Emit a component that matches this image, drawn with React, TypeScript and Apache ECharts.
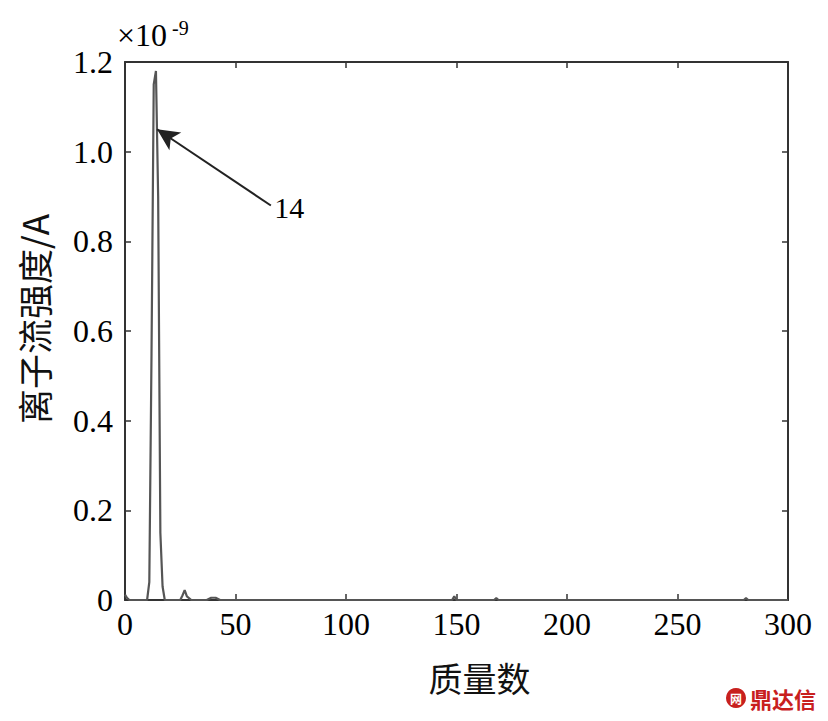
import React, { useEffect, useRef } from "react";
import * as echarts from "echarts";

const massNumbers = [0, 1, 2, 8, 10, 11, 12, 13, 14, 15, 16, 17, 18, 25, 26, 27, 28, 30, 37, 39, 41, 43, 148, 149, 150, 167, 168, 169, 280, 281, 282, 300];
const intensity = [0.012, 0.004, 0, 0, 0, 0.04, 0.55, 1.15, 1.18, 0.9, 0.15, 0.03, 0, 0, 0.01, 0.022, 0.008, 0, 0, 0.005, 0.005, 0, 0, 0.008, 0, 0, 0.004, 0, 0, 0.004, 0, 0];
const xTicks = [0, 50, 100, 150, 200, 250, 300];
const yTicks = [0, 0.2, 0.4, 0.6, 0.8, 1.0, 1.2];
const peakLabel = "14";
const arrowFrom = [66, 0.88];
const arrowTo = [14.5, 1.05];

const serif = "'Liberation Serif', 'Times New Roman', serif";
const cjk = "'Noto Sans CJK SC', sans-serif";

export default function App() {
  const ref = useRef<HTMLDivElement>(null);
  useEffect(() => {
    const chart = echarts.init(ref.current!, null, { renderer: "svg" });
    const axisLine = { show: true, onZero: false, lineStyle: { color: "#333", width: 2 } };
    const tick = { show: true, inside: true, length: 6, lineStyle: { color: "#333", width: 1.5 } };
    chart.setOption({
      animation: false,
      backgroundColor: "#fff",
      grid: { left: 110, right: 40, top: 54, bottom: 121 },
      xAxis: [
        {
          type: "value",
          min: xTicks[0],
          max: xTicks[xTicks.length - 1],
          interval: 50,
          axisLine,
          axisTick: tick,
          splitLine: { show: false },
          axisLabel: { color: "#000", fontFamily: serif, fontSize: 32, margin: 8 },
          name: "质量数",
          nameLocation: "middle",
          nameGap: 60,
          nameTextStyle: { color: "#111", fontFamily: cjk, fontSize: 34, padding: [0, 0, 0, 46] },
        },
        {
          type: "value",
          position: "top",
          min: xTicks[0],
          max: xTicks[xTicks.length - 1],
          interval: 50,
          axisLine,
          axisTick: tick,
          axisLabel: { show: false },
          splitLine: { show: false },
        },
      ],
      yAxis: [
        {
          type: "value",
          min: yTicks[0],
          max: yTicks[yTicks.length - 1],
          interval: 0.2,
          axisLine,
          axisTick: tick,
          splitLine: { show: false },
          axisLabel: {
            color: "#000",
            fontFamily: serif,
            fontSize: 32,
            margin: 12,
            formatter: (v: number) => (v === 0 ? "0" : v.toFixed(1)),
          },
          name: "离子流强度/A",
          nameLocation: "middle",
          nameGap: 74,
          nameRotate: 90,
          nameTextStyle: { color: "#111", fontFamily: cjk, fontSize: 35, padding: [0, 0, 0, 24] },
        },
        {
          type: "value",
          position: "right",
          min: yTicks[0],
          max: yTicks[yTicks.length - 1],
          interval: 0.2,
          axisLine,
          axisTick: tick,
          axisLabel: { show: false },
          splitLine: { show: false },
        },
      ],
      series: [
        {
          type: "line",
          data: massNumbers.map((m, i) => [m, intensity[i]]),
          showSymbol: false,
          lineStyle: { color: "#555", width: 2.2 },
          markLine: {
            silent: true,
            symbol: ["none", "arrow"],
            symbolSize: [16, 22],
            lineStyle: { color: "#222", width: 2, type: "solid" },
            label: {
              show: true,
              position: "start",
              formatter: peakLabel,
              color: "#000",
              fontFamily: serif,
              fontSize: 30,
              distance: 4,
            },
            data: [[{ coord: arrowFrom }, { coord: arrowTo }]],
          },
        },
      ],
      graphic: [
        {
          type: "text",
          x: 109,
          y: 11,
          style: { text: "×10", fontFamily: serif, fontSize: 32, fill: "#000", verticalAlign: "top" },
        },
        {
          type: "text",
          x: 164,
          y: 10,
          style: { text: "-9", fontFamily: serif, fontSize: 20, fill: "#000", verticalAlign: "top" },
        },
        {
          type: "circle",
          shape: { cx: 728, cy: 690, r: 10 },
          style: { fill: "#c8201e" },
        },
        {
          type: "text",
          x: 728,
          y: 690,
          style: { text: "网", fill: "#fff", fontFamily: cjk, fontSize: 12, fontWeight: "bold", align: "center", verticalAlign: "middle" },
        },
        {
          type: "text",
          x: 742,
          y: 690,
          style: { text: "鼎达信", fill: "#c8201e", fontFamily: cjk, fontSize: 22, fontWeight: "bold", verticalAlign: "middle" },
        },
      ],
    });
    return () => chart.dispose();
  }, []);
  return <div ref={ref} style={{ width: 820, height: 713 }} />;
}
